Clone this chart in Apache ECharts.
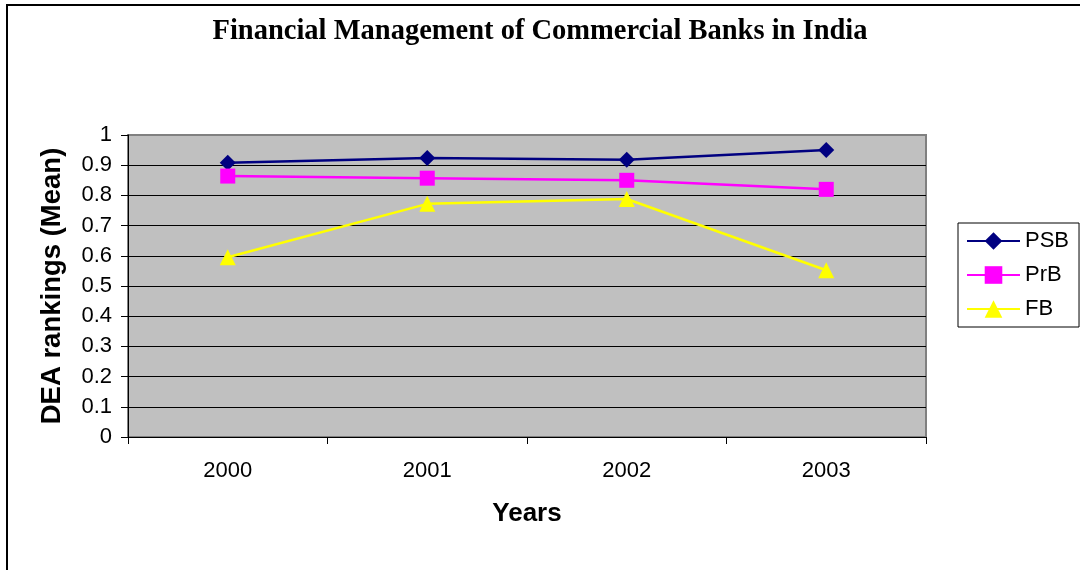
<!DOCTYPE html>
<html>
<head>
<meta charset="utf-8">
<script src="https://cdn.jsdelivr.net/npm/echarts@6/dist/echarts.min.js"></script>
<style>
html,body{margin:0;padding:0;background:#fff;}
#chart{width:1080px;height:570px;}
</style>
</head>
<body>
<div id="chart"></div>
<script>
var years = ['2000', '2001', '2002', '2003'];
var psb = [0.908, 0.924, 0.918, 0.950];
var prb = [0.864, 0.857, 0.850, 0.820];
var fb = [0.595, 0.772, 0.788, 0.552];

var chart = echarts.init(document.getElementById('chart'));
var font = 'Arial, "Liberation Sans", sans-serif';
var gridColors = ['#000', '#000', '#000', '#000', '#000', '#000', '#000', '#000', '#000', '#000', '#808080'];
chart.setOption({
  animation: false,
  backgroundColor: '#fff',
  title: {
    text: 'Financial Management of Commercial Banks in India',
    left: 'center',
    top: 12,
    textStyle: { fontFamily: '"Times New Roman", "Liberation Serif", serif', fontWeight: 'bold', fontSize: 28.5, color: '#000' }
  },
  graphic: [{
    type: 'rect', silent: true,
    shape: { x: 7, y: 5, width: 1100, height: 600 },
    style: { fill: 'none', stroke: '#000', lineWidth: 2 }
  }],
  legend: {
    orient: 'vertical',
    left: 958, top: 223,
    backgroundColor: '#fff',
    borderColor: '#000', borderWidth: 1, borderRadius: 0,
    padding: [7, 10, 7, 8],
    itemWidth: 53, itemHeight: 22, itemGap: 12,
    textStyle: { fontFamily: font, fontSize: 22, color: '#000', padding: [0, 0, 0, 0] },
    data: ['PSB', 'PrB', 'FB']
  },
  grid: {
    left: 128, top: 135, width: 798, height: 302,
    show: true, backgroundColor: '#c0c0c0', borderColor: '#808080', borderWidth: 2,
    containLabel: false
  },
  xAxis: {
    type: 'category', data: years,
    name: 'Years', nameLocation: 'middle', nameGap: 64,
    nameTextStyle: { fontFamily: font, fontWeight: 'bold', fontSize: 26, color: '#000' },
    axisLine: { lineStyle: { color: '#000', width: 1 } },
    axisTick: { show: true, length: 7, lineStyle: { color: '#000' } },
    axisLabel: { fontFamily: font, fontSize: 22, color: '#000', margin: 23 },
    splitLine: { show: false }
  },
  yAxis: {
    type: 'value', min: 0, max: 1, interval: 0.1,
    name: 'DEA rankings (Mean)', nameLocation: 'middle', nameGap: 62,
    nameTextStyle: { fontFamily: font, fontWeight: 'bold', fontSize: 27.5, color: '#000' },
    axisLine: { show: true, lineStyle: { color: '#000', width: 1 } },
    axisTick: { show: true, length: 7, lineStyle: { color: '#000' } },
    axisLabel: { fontFamily: font, fontSize: 22, color: '#000', margin: 16,
      formatter: function (v) { return String(Math.round(v * 10) / 10); } },
    splitLine: { show: true, lineStyle: { color: gridColors, width: 1 } }
  },
  series: [
    { name: 'PSB', type: 'line', data: psb, symbol: 'diamond', symbolSize: 16,
      lineStyle: { color: '#000080', width: 2.5 }, itemStyle: { color: '#000080' } },
    { name: 'PrB', type: 'line', data: prb, symbol: 'rect', symbolSize: 15,
      lineStyle: { color: '#ff00ff', width: 2.5 }, itemStyle: { color: '#ff00ff' } },
    { name: 'FB', type: 'line', data: fb, symbol: 'triangle', symbolSize: 16,
      lineStyle: { color: '#ffff00', width: 2.5 }, itemStyle: { color: '#ffff00' } }
  ]
});
</script>
</body>
</html>
